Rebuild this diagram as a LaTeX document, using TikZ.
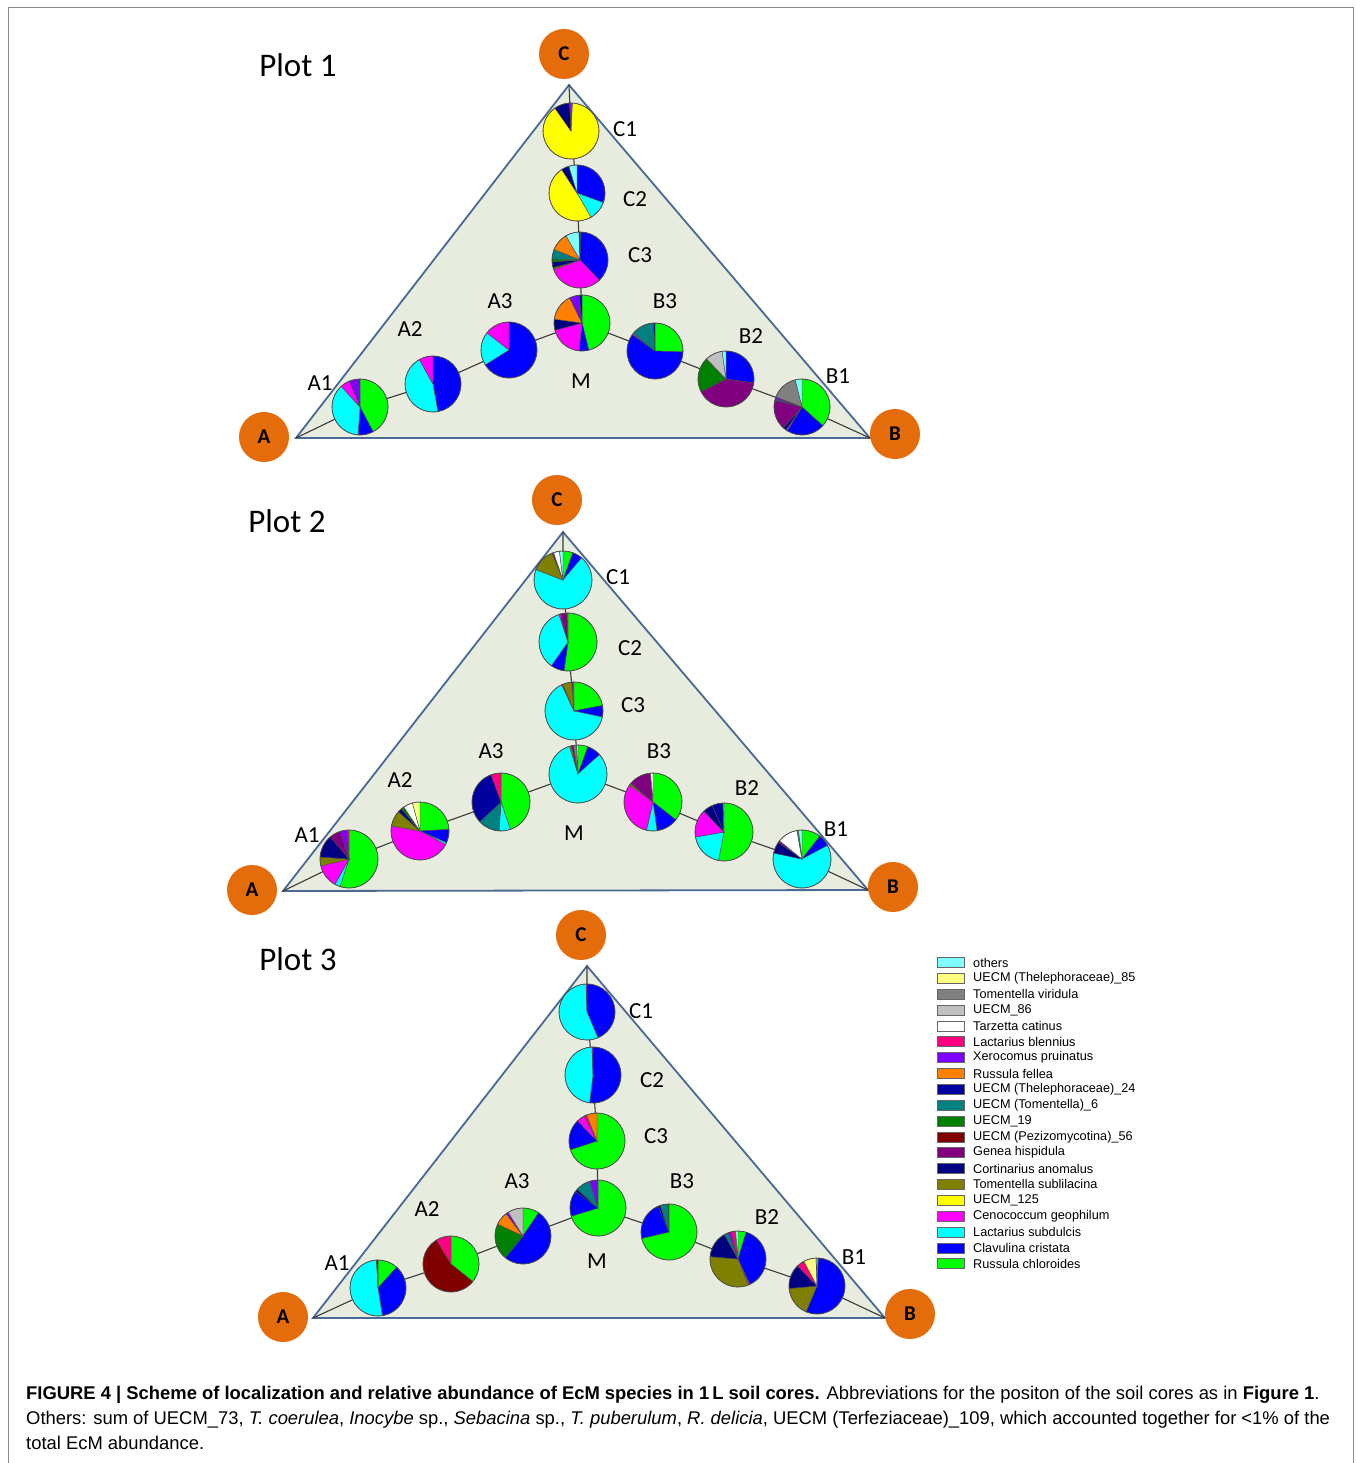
\documentclass[tikz,border=0pt]{standalone}
\usepackage{fontspec}
\setmainfont{Carlito}
\newfontfamily\arialf{Liberation Sans}
\definecolor{cOth}{HTML}{80FFFF}
\definecolor{cT85}{HTML}{FFFF80}
\definecolor{cTvir}{HTML}{808080}
\definecolor{cU86}{HTML}{C0C0C0}
\definecolor{cTar}{HTML}{FFFFFF}
\definecolor{cLbl}{HTML}{FF0080}
\definecolor{cXer}{HTML}{8000FF}
\definecolor{cRfe}{HTML}{FF8000}
\definecolor{cT24}{HTML}{0000A0}
\definecolor{cTo6}{HTML}{008080}
\definecolor{cU19}{HTML}{008000}
\definecolor{cPez}{HTML}{800000}
\definecolor{cGen}{HTML}{800080}
\definecolor{cCor}{HTML}{000080}
\definecolor{cTsu}{HTML}{808000}
\definecolor{cU125}{HTML}{FFFF00}
\definecolor{cCen}{HTML}{FF00FF}
\definecolor{cLsu}{HTML}{00FFFF}
\definecolor{cCla}{HTML}{0000FF}
\definecolor{cRch}{HTML}{00FF00}
\definecolor{orangeV}{HTML}{E46C0A}
\definecolor{triFill}{HTML}{E8ECDF}
\definecolor{triEdge}{HTML}{4A6994}
\definecolor{pieedge}{HTML}{4A4A4A}
\definecolor{spokecol}{HTML}{3A3A3A}
\definecolor{framecol}{HTML}{8A8A8A}
\newcommand\drawpie[2]{%
  \foreach \e/\c [remember=\e as \s (initially 0)] in {#2} {%
    \filldraw[fill=\c, draw=pieedge, line width=0.45pt] (#1) -- ++({\s-90}:\pr) arc[start angle={\s-90}, end angle={\e-90}, radius=\pr] -- cycle;
  }%
  \draw[draw=pieedge, line width=0.6pt] (#1) circle[radius=\pr];
}
\tikzset{
  tri/.style={fill=triFill, draw=triEdge, line width=1.8pt, line join=miter},
  spoke/.style={draw=spokecol, line width=1.1pt},
  vert/.style={circle, fill=orangeV, minimum size=50pt, inner sep=0pt, font=\bfseries\fontsize{21}{21}\selectfont},
  lab/.style={inner sep=0pt, font=\fontsize{23}{23}\selectfont},
  ptitle/.style={inner sep=0pt, font=\fontsize{33}{33}\selectfont},
  legbox/.style={draw=black!60, line width=0.6pt},
  legtext/.style={anchor=west, inner sep=0pt, font=\arialf\fontsize{12.7}{13}\selectfont},
  captext/.style={anchor=base west, inner sep=0pt, font=\arialf\fontsize{18.4}{22}\selectfont},
}
\begin{document}
\begin{tikzpicture}[x=1pt, y=-1pt]
\useasboundingbox (0,0) rectangle (1356,1463);
\fill[white] (0,0) rectangle (1356,1463);
\draw[framecol, line width=1pt] (8,1463) -- (8,8) -- (1353,8) -- (1353,1463);

% ================= PLOT 1 =================
\coordinate (p1vC) at (569,85);
\coordinate (p1vA) at (296,438);
\coordinate (p1vB) at (870,438);
\coordinate (p1C1) at (571,131);
\coordinate (p1C2) at (577,193);
\coordinate (p1C3) at (580,260);
\coordinate (p1M) at (582,323);
\coordinate (p1A1) at (360,407);
\coordinate (p1A2) at (433,384);
\coordinate (p1A3) at (509,350);
\coordinate (p1B3) at (655,351);
\coordinate (p1B2) at (726,379);
\coordinate (p1B1) at (802,407);
\filldraw[tri] (p1vA) -- (p1vB) -- (p1vC) -- cycle;
\draw[spoke] (p1vC) -- (p1C1) -- (p1C2) -- (p1C3) -- (p1M);
\draw[spoke] (p1vA) -- (p1A1) -- (p1A2) -- (p1A3) -- (p1M);
\draw[spoke] (p1vB) -- (p1B1) -- (p1B2) -- (p1B3) -- (p1M);
\node[vert] (p1oC) at (564,54) {C};
\node[vert] (p1oA) at (264,437) {A};
\node[vert] (p1oB) at (895,434) {B};
\def\pr{28}
\drawpie{p1C1}{3/cCen, 325/cU125, 357/cCor, 360/cXer}
\drawpie{p1C2}{110/cCla, 150/cLsu, 327/cU125, 343/cCor, 360/cOth}
\drawpie{p1C3}{2/cRch, 136/cCla, 250/cCen, 254/cTsu, 266/cCor, 272/cU19, 292/cTo6, 330/cRfe, 358/cOth, 360/cCor}
\drawpie{p1M}{166/cRch, 186/cCla, 255/cCen, 278/cCor, 334/cRfe, 354/cXer, 360/cT24}
\drawpie{p1A1}{152/cRch, 184/cCla, 318/cLsu, 338/cCen, 360/cXer}
\drawpie{p1A2}{170/cCla, 331/cLsu, 360/cCen}
\drawpie{p1A3}{238/cCla, 308/cLsu, 360/cCen}
\drawpie{p1B3}{92/cRch, 306/cCla, 309/cCen, 357/cTo6, 360/cT24}
\drawpie{p1B2}{98/cCla, 243/cGen, 316/cU19, 352/cU86, 360/cOth}
\drawpie{p1B1}{132/cRch, 212/cCla, 215/cCen, 222/cCor, 284/cGen, 287/cTo6, 291/cXer, 346/cTvir, 360/cOth}
\node[ptitle] (p1title) at (298,65) {Plot 1};
\node[lab] (p1lC1) at (625,129) {C1};
\node[lab] (p1lC2) at (635,199) {C2};
\node[lab] (p1lC3) at (640,255) {C3};
\node[lab] (p1lA3) at (500,301) {A3};
\node[lab] (p1lB3) at (665,301) {B3};
\node[lab] (p1lA2) at (410,329) {A2};
\node[lab] (p1lA1) at (320,383) {A1};
\node[lab] (p1lM) at (581,381) {M};
\node[lab] (p1lB2) at (751,336) {B2};
\node[lab] (p1lB1) at (838,376) {B1};

% ================= PLOT 2 =================
\coordinate (p2vC) at (563,532);
\coordinate (p2vA) at (283,891);
\coordinate (p2vB) at (868,890);
\coordinate (p2C1) at (563,580);
\coordinate (p2C2) at (568,642);
\coordinate (p2C3) at (574,711);
\coordinate (p2M) at (578,774);
\coordinate (p2A3) at (501,802);
\coordinate (p2A2) at (420,831);
\coordinate (p2A1) at (349,859);
\coordinate (p2B3) at (653,802);
\coordinate (p2B2) at (724,832);
\coordinate (p2B1) at (802,859);
\filldraw[tri] (p2vA) -- (p2vB) -- (p2vC) -- cycle;
\draw[spoke] (p2vC) -- (p2C1) -- (p2C2) -- (p2C3) -- (p2M);
\draw[spoke] (p2vA) -- (p2A1) -- (p2A2) -- (p2A3) -- (p2M);
\draw[spoke] (p2vB) -- (p2B1) -- (p2B2) -- (p2B3) -- (p2M);
\node[vert] (p2oC) at (557,500) {C};
\node[vert] (p2oA) at (252,890) {A};
\node[vert] (p2oB) at (893,887) {B};
\def\pr{29}
\drawpie{p2C1}{20/cRch, 40/cCla, 291/cLsu, 338/cTsu, 341/cGen, 353/cTar, 360/cOth}
\drawpie{p2C2}{188/cRch, 215/cCla, 342/cLsu, 345/cCen, 358/cGen, 360/cTsu}
\drawpie{p2C3}{79/cRch, 102/cCla, 335/cLsu, 337/cCen, 356/cTsu, 359/cGen, 360/cOth}
\drawpie{p2M}{20/cRch, 48/cCla, 343/cLsu, 347/cTsu, 351/cGen, 357/cTvir, 360/cOth}
\drawpie{p2A3}{161/cRch, 184/cLsu, 227/cTo6, 340/cT24, 360/cLbl}
\drawpie{p2A2}{87/cRch, 114/cCla, 118/cLsu, 280/cCen, 312/cTsu, 320/cCor, 326/cU19, 345/cTar, 360/cT85}
\drawpie{p2A1}{198/cRch, 209/cLsu, 256/cCen, 274/cTsu, 320/cCor, 343/cGen, 357/cXer, 360/cLbl}
\drawpie{p2B3}{128/cRch, 172/cCla, 193/cLsu, 306/cCen, 310/cTsu, 355/cGen, 360/cTar}
\drawpie{p2B2}{191/cRch, 260/cLsu, 316/cCen, 336/cCor, 358/cT24, 360/cOth}
\drawpie{p2B1}{38/cRch, 62/cCla, 282/cLsu, 305/cCor, 309/cGen, 350/cTar, 353/cTvir, 360/cOth}
\node[ptitle] (p2title) at (287,521) {Plot 2};
\node[lab] (p2lC1) at (618,577) {C1};
\node[lab] (p2lC2) at (630,648) {C2};
\node[lab] (p2lC3) at (633,705) {C3};
\node[lab] (p2lA3) at (491,751) {A3};
\node[lab] (p2lA2) at (400,780) {A2};
\node[lab] (p2lA1) at (307,835) {A1};
\node[lab] (p2lM) at (574,833) {M};
\node[lab] (p2lB3) at (659,751) {B3};
\node[lab] (p2lB2) at (747,788) {B2};
\node[lab] (p2lB1) at (836,829) {B1};

% ================= PLOT 3 =================
\coordinate (p3vC) at (587,966);
\coordinate (p3vA) at (313,1318);
\coordinate (p3vB) at (885,1318);
\coordinate (p3C1) at (587,1012);
\coordinate (p3C2) at (593,1075);
\coordinate (p3C3) at (597,1141);
\coordinate (p3M) at (598,1208);
\coordinate (p3A3) at (523,1236);
\coordinate (p3A2) at (451,1264);
\coordinate (p3A1) at (378,1288);
\coordinate (p3B3) at (669,1232);
\coordinate (p3B2) at (738,1259);
\coordinate (p3B1) at (817,1286);
\filldraw[tri] (p3vA) -- (p3vB) -- (p3vC) -- cycle;
\draw[spoke] (p3vC) -- (p3C1) -- (p3C2) -- (p3C3) -- (p3M);
\draw[spoke] (p3vA) -- (p3A1) -- (p3A2) -- (p3A3) -- (p3M);
\draw[spoke] (p3vB) -- (p3B1) -- (p3B2) -- (p3B3) -- (p3M);
\node[vert] (p3oC) at (581,935) {C};
\node[vert] (p3oA) at (283,1317) {A};
\node[vert] (p3oB) at (910,1314) {B};
\def\pr{28}
\drawpie{p3C1}{157/cCla, 358/cLsu, 360/cCen}
\drawpie{p3C2}{187/cCla, 358/cLsu, 360/cCen}
\drawpie{p3C3}{252/cRch, 316/cCla, 333/cCen, 338/cLbl, 360/cRfe}
\drawpie{p3M}{253/cRch, 306/cCla, 312/cCor, 343/cTo6, 360/cXer}
\drawpie{p3A3}{34/cRch, 219/cCla, 295/cU19, 323/cRfe, 328/cXer, 360/cU86}
\drawpie{p3A2}{129/cRch, 329/cPez, 360/cLbl}
\drawpie{p3A1}{42/cRch, 171/cCla, 357/cLsu, 360/cCor}
\drawpie{p3B3}{257/cRch, 337/cCla, 342/cCor, 358/cTo6, 360/cU19}
\drawpie{p3B2}{17/cRch, 155/cCla, 158/cCen, 275/cTsu, 331/cCor, 340/cTo6, 345/cXer, 355/cLbl, 360/cOth}
\drawpie{p3B1}{3/cRch, 203/cCla, 265/cTsu, 316/cCor, 332/cLbl, 358/cT85, 360/cOth}
\node[ptitle] (p3title) at (298,959) {Plot 3};
\node[lab] (p3lC1) at (641,1011) {C1};
\node[lab] (p3lC2) at (652,1080) {C2};
\node[lab] (p3lC3) at (656,1136) {C3};
\node[lab] (p3lA3) at (517,1181) {A3};
\node[lab] (p3lA2) at (427,1209) {A2};
\node[lab] (p3lA1) at (337,1263) {A1};
\node[lab] (p3lM) at (597,1261) {M};
\node[lab] (p3lB3) at (682,1181) {B3};
\node[lab] (p3lB2) at (767,1217) {B2};
\node[lab] (p3lB1) at (854,1257) {B1};

% ================= LEGEND =================
\foreach \c/\t [count=\i from 0] in {
  cOth/others,
  cT85/UECM (Thelephoraceae)\_85,
  cTvir/Tomentella viridula,
  cU86/UECM\_86,
  cTar/Tarzetta catinus,
  cLbl/Lactarius blennius,
  cXer/Xerocomus pruinatus,
  cRfe/Russula fellea,
  cT24/UECM (Thelephoraceae)\_24,
  cTo6/UECM (Tomentella)\_6,
  cU19/UECM\_19,
  cPez/UECM (Pezizomycotina)\_56,
  cGen/Genea hispidula,
  cCor/Cortinarius anomalus,
  cTsu/Tomentella sublilacina,
  cU125/UECM\_125,
  cCen/Cenococcum geophilum,
  cLsu/Lactarius subdulcis,
  cCla/Clavulina cristata,
  cRch/Russula chloroides} {
  \pgfmathsetmacro\yy{962.5+15.85*\i}
  \filldraw[legbox, fill=\c] (937,\yy-5) rectangle (964,\yy+5);
  \node[legtext] (leg\i) at (973,\yy) {\t};
}

% ================= CAPTION =================
\node[captext] (cap1) at (26,1399.5) {\textbf{FIGURE 4 | Scheme of localization and relative abundance of EcM species in 1\,L soil cores.} Abbreviations for the positon of the soil cores as in \textbf{Figure 1}.};
\node[captext] (cap2) at (26,1424.5) {Others: sum of UECM\_73, \textit{T. coerulea}, \textit{Inocybe} sp., \textit{Sebacina} sp., \textit{T. puberulum}, \textit{R. delicia}, UECM (Terfeziaceae)\_109, which accounted together for <1\% of the};
\node[captext] (cap3) at (26,1449.5) {total EcM abundance.};
\end{tikzpicture}
\end{document}
